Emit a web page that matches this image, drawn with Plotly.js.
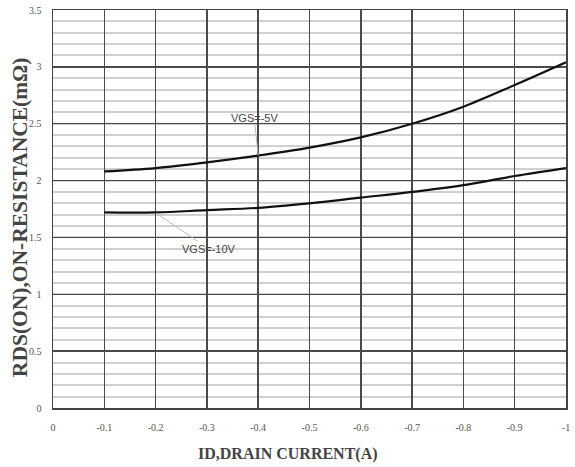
<!DOCTYPE html>
<html><head><meta charset="utf-8">
<script src="https://cdn.plot.ly/plotly-3.0.1.min.js"></script>
<style>body{margin:0;background:#fff}#c{width:575px;height:467px}</style>
</head><body><div id="c"></div>
<script>
const current = [-0.1, -0.2, -0.3, -0.4, -0.5, -0.6, -0.7, -0.8, -0.9, -1.0];
const rds5V  = [2.08, 2.11, 2.16, 2.22, 2.29, 2.38, 2.50, 2.65, 2.84, 3.04];
const rds10V = [1.72, 1.72, 1.74, 1.76, 1.80, 1.85, 1.90, 1.96, 2.04, 2.11];
const xTickVals = [0, -0.1, -0.2, -0.3, -0.4, -0.5, -0.6, -0.7, -0.8, -0.9, -1];
const xTickText = ["0", "-0.1", "-0.2", "-0.3", "-0.4", "-0.5", "-0.6", "-0.7", "-0.8", "-0.9", "-1"];
const yTickVals = [0, 0.5, 1, 1.5, 2, 2.5, 3, 3.5];
const yTickText = ["0", "0.5", "1", "1.5", "2", "2.5", "3", "3.5"];
const xTitle = 'ID,DRAIN CURRENT(A)';
const yTitle = 'RDS(ON),ON-RESISTANCE(mΩ)';

const traces = [
  {x: current, y: rds5V, mode: 'lines', line: {color: '#111', width: 2.2, shape: 'spline'}, name: 'VGS=-5V'},
  {x: current, y: rds10V, mode: 'lines', line: {color: '#111', width: 2.2, shape: 'spline'}, name: 'VGS=-10V'}
];

const tickFont = {family: 'Liberation Serif', size: 10, color: '#555'};
const titleFont = {family: 'Liberation Serif', color: '#444', weight: 'bold'};
const layout = {
  width: 575, height: 467,
  margin: {l: 53, r: 9, t: 10, b: 59},
  paper_bgcolor: '#fff', plot_bgcolor: '#fff',
  showlegend: false,
  xaxis: {
    range: [0, -1], tickvals: xTickVals, ticktext: xTickText,
    showgrid: true, gridcolor: '#4a4a4a', gridwidth: 1.5,
    showline: true, linecolor: '#444', linewidth: 1.5, mirror: true,
    zeroline: false, ticks: 'outside', ticklen: 9, tickcolor: 'rgba(0,0,0,0)', tickfont: tickFont
  },
  yaxis: {
    range: [0, 3.5], tickvals: yTickVals, ticktext: yTickText,
    showgrid: true, gridcolor: '#4a4a4a', gridwidth: 1.5,
    minor: {dtick: 0.1, showgrid: true, gridcolor: '#d0d0d0', gridwidth: 2},
    showline: true, linecolor: '#444', linewidth: 1.5, mirror: true,
    zeroline: false, ticks: 'outside', ticklen: 8, tickcolor: 'rgba(0,0,0,0)', tickfont: tickFont
  },
  annotations: [
    {x: -0.4, y: 2.22, ax: -4, ay: -38, text: 'VGS=-5V',
     showarrow: true, arrowhead: 0, arrowcolor: '#bbb', arrowwidth: 1, standoff: 0,
     font: {family: 'Liberation Sans Narrow, Liberation Sans', size: 11, color: '#444'}},
    {x: -0.202, y: 1.71, ax: 52, ay: 35, text: 'VGS=-10V',
     showarrow: true, arrowhead: 0, arrowcolor: '#bbb', arrowwidth: 1, standoff: 0,
     font: {family: 'Liberation Sans Narrow, Liberation Sans', size: 11, color: '#444'}},
    {xref: 'paper', yref: 'paper', x: 0.458, y: -0.115, xanchor: 'center', yanchor: 'middle',
     text: xTitle, showarrow: false, font: Object.assign({size: 16}, titleFont)},
    {xref: 'paper', yref: 'paper', x: -0.064, y: 0.48, xanchor: 'center', yanchor: 'middle',
     textangle: -90, text: yTitle, showarrow: false, font: Object.assign({size: 21.5}, titleFont)}
  ]
};
Plotly.newPlot('c', traces, layout, {displayModeBar: false, staticPlot: true});
</script></body></html>
